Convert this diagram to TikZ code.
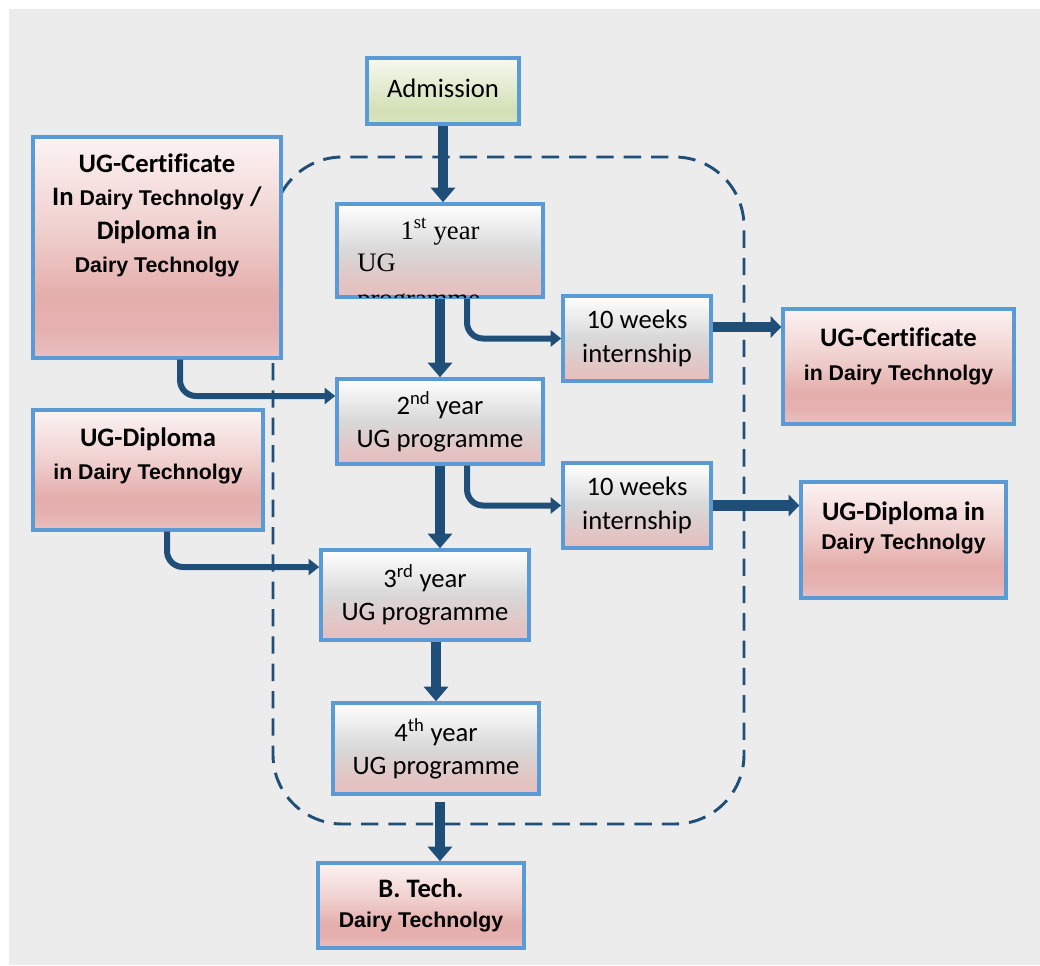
\documentclass[tikz,border=0pt]{standalone}
\usepackage{fontspec}
\setmainfont{Carlito}[Ligatures=NoCommon]
\newfontfamily\arialf{Liberation Sans}
\newfontfamily\timesf{Liberation Serif}
\usetikzlibrary{arrows.meta,calc}

\definecolor{bg}{HTML}{ECECEC}
\definecolor{bord}{HTML}{5B9BD5}
\definecolor{arr}{HTML}{1F4E79}
\definecolor{pk0}{HTML}{E9C0BF}
\definecolor{pk1}{HTML}{E5B1B0}
\definecolor{pk2}{HTML}{E4AEAC}
\definecolor{pk3}{HTML}{EFCFCD}
\definecolor{pk4}{HTML}{FCF3F3}
\definecolor{gr0}{HTML}{E7BDBC}
\definecolor{gr1}{HTML}{E0C8C7}
\definecolor{gr2}{HTML}{D8D8D8}
\definecolor{gr3}{HTML}{FFFFFF}
\definecolor{gn0}{HTML}{D9E5C1}
\definecolor{gn1}{HTML}{D3E0B5}
\definecolor{gn2}{HTML}{F6F9F0}

\pgfdeclareverticalshading{pinkgrad}{100bp}{color(0bp)=(pk0); color(25bp)=(pk0); color(31.5bp)=(pk1); color(39bp)=(pk2); color(53.5bp)=(pk3); color(75bp)=(pk4); color(100bp)=(pk4)}
\pgfdeclareverticalshading{graygrad}{100bp}{color(0bp)=(gr0); color(25bp)=(gr0); color(36bp)=(gr1); color(50bp)=(gr2); color(75bp)=(gr3); color(100bp)=(gr3)}
\pgfdeclareverticalshading{greengrad}{100bp}{color(0bp)=(gn0); color(25bp)=(gn0); color(35bp)=(gn1); color(75bp)=(gn2); color(100bp)=(gn2)}

\newcommand{\dt}[1]{{\arialf\bfseries\fontsize{16}{25}\selectfont #1}}

\tikzset{
  box/.style={draw=bord, line width=2.6pt, inner sep=0pt, align=center,
    font=\fontsize{20}{25}\selectfont},
  wh/.style 2 args={minimum width=#1*0.75pt, minimum height=#2*0.75pt},
  pinkbox/.style={box, shade, shading=pinkgrad},
  graybox/.style={box, shade, shading=graygrad},
  greenbox/.style={box, shade, shading=greengrad},
  txt/.style={inner sep=0pt, align=center, font=\fontsize{20}{25}\selectfont},
  mainarrow/.style={draw=arr, line width=7pt, -{Triangle[width=18pt,length=11pt]}},
  sidearrow/.style={draw=arr, line width=4.5pt, rounded corners=12pt,
    -{Triangle[width=12pt,length=8pt]}},
  outarrow/.style={draw=arr, line width=8pt, -{Triangle[width=16pt,length=8pt]}},
  dashbox/.style={draw=arr, line width=2.2pt, dash pattern=on 13pt off 7.5pt,
    rounded corners=52pt},
}

\begin{document}
\begin{tikzpicture}[x=0.75pt, y=-0.75pt]
\useasboundingbox (0,0) rectangle (1040,965);
\fill[white] (0,0) rectangle (1040,965);
\fill[bg] (9,9) rectangle (1040,965);

% dashed frame
\draw[dashbox] (273,157) rectangle (744,824);

% boxes
\node[greenbox, wh={152}{66}] (adm) at (443,91) {};
\node[txt] (admt) at ($(adm.center)+(0,-3)$) {Admission};
\node[pinkbox, wh={248}{221}] (lc) at (157,247.5) {};
\node[txt] (lct) at ($(lc.center)+(0,-32)$)
  {\textbf{UG-Certificate}\\\textbf{In} \dt{Dairy Technolgy} \textbf{/}\\\textbf{Diploma in}\\\dt{Dairy Technolgy}};
\node[graybox, wh={206}{93}] (y1) at (440,250.5) {};
\begin{scope}
  \clip ($(y1.north west)+(1.7,1.7)$) rectangle ($(y1.south east)+(-1.7,-1.7)$);
  \node[inner sep=0pt, anchor=base, font=\timesf\fontsize{20}{25}\selectfont] (y1a) at (440,239) {1\textsuperscript{st} year};
  \node[inner sep=0pt, anchor=base west, font=\timesf\fontsize{20}{25}\selectfont] (y1b) at (357,271) {UG};
  \node[inner sep=0pt, anchor=base west, font=\timesf\fontsize{20}{25}\selectfont] (y1c) at (357,307) {programme};
\end{scope}
\node[graybox, wh={148}{85}] (i1) at (637,338.5) {10 weeks\\internship};
\node[pinkbox, wh={231}{115}] (rc) at (898.5,366.5) {};
\node[txt] (rct) at ($(rc.center)+(0,-10)$) {\textbf{UG-Certificate}\\\dt{in Dairy Technolgy}};
\node[graybox, wh={206}{85}] (y2) at (440,421.5) {2\textsuperscript{nd} year\\UG programme};
\node[pinkbox, wh={230}{120}] (ld) at (148,470) {};
\node[txt] (ldt) at ($(ld.center)+(0,-14)$) {\textbf{UG-Diploma}\\\dt{in Dairy Technolgy}};
\node[graybox, wh={148}{85}] (i2) at (637,505.5) {10 weeks\\internship};
\node[pinkbox, wh={205}{116}] (rd) at (903.5,540) {};
\node[txt, font=\fontsize{20}{22}\selectfont] (rdt) at ($(rd.center)+(0,-12)$) {\textbf{UG-Diploma in}\\\dt{Dairy Technolgy}};
\node[graybox, wh={208}{90}] (y3) at (425,595) {3\textsuperscript{rd} year\\UG programme};
\node[graybox, wh={206}{91}] (y4) at (436,748.5) {4\textsuperscript{th} year\\UG programme};
\node[pinkbox, wh={206}{85}, font=\fontsize{20}{22}\selectfont] (bt) at (421,905.5) {\textbf{B. Tech.}\\\dt{Dairy Technolgy}};

% connectors
\draw[mainarrow] (adm.south) -- (adm.south |- y1.north);
\draw[mainarrow] (y1.south) -- (y2.north);
\draw[mainarrow] (y2.south) -- (y2.south |- y3.north);
\draw[mainarrow] (y3.south -| y4.north) -- (y4.north);
\coordinate (y4s) at ($(y4.south)+(4,6)$);
\draw[mainarrow] (y4s) -- (y4s |- bt.north);

\draw[sidearrow] ($(y1.south)+(27,0)$) |- (i1.west);
\draw[sidearrow] ($(y2.south)+(27,0)$) |- (i2.west);
\coordinate (lcs) at ($(lc.south)+(23,0)$);
\coordinate (y2in) at ($(y2.west)+(0,-25.5)$);
\draw[sidearrow] (lcs) |- (y2in);
\coordinate (lds) at ($(ld.south)+(19,0)$);
\coordinate (y3in) at ($(y3.west)+(0,-28)$);
\draw[sidearrow] (lds) |- (y3in);

\coordinate (i1o) at ($(i1.east)+(0,-11.5)$);
\draw[outarrow] (i1o) -- (i1o -| rc.west);
\draw[outarrow] (i2.east) -- (i2.east -| rd.west);
\end{tikzpicture}
\end{document}
